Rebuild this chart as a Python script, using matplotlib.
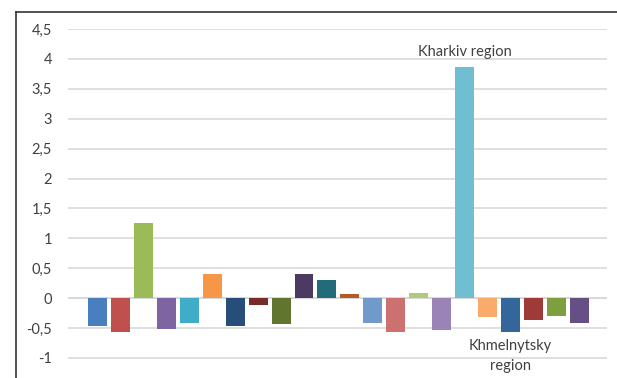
import matplotlib
matplotlib.use('Agg')
import matplotlib.pyplot as plt
import numpy as np

# one value per region (22 bars)
values = [-0.46, -0.56, 1.26, -0.51, -0.42, 0.41, -0.46, -0.11, -0.44, 0.41, 0.31,
          0.07, -0.41, -0.56, 0.09, -0.54, 3.87, -0.31, -0.56, -0.37, -0.29, -0.42]
colors = ['#4A7FBF', '#C0504D', '#9BBB59', '#7F64A2', '#40ACC8', '#F79646',
          '#264E78', '#772C2A', '#61752F', '#4D3A62', '#216B7B', '#B65929',
          '#6F9ACB', '#CD7170', '#B0CA7B', '#9A83B6', '#6FBED2', '#F9AB6A',
          '#33679C', '#9E3A38', '#7E9E3F', '#664F84']
labels = {16: 'Kharkiv region', 18: 'Khmelnytsky\nregion'}
y_ticks = [-1, -0.5, 0, 0.5, 1, 1.5, 2, 2.5, 3, 3.5, 4, 4.5]

W, H = 617, 378
fig = plt.figure(figsize=(W / 100, H / 100), dpi=100)
plt.rcParams['font.family'] = ['Lato', 'DejaVu Sans']

# outer chart border (only top and left visible in the crop)
fig.add_artist(plt.Line2D([15.5 / W, 1], [1 - 11.5 / H, 1 - 11.5 / H], color='#333333', lw=1.2))
fig.add_artist(plt.Line2D([15.5 / W, 15.5 / W], [0, 1 - 11.5 / H], color='#333333', lw=1.2))

ax = fig.add_axes([68 / W, 0, (607 - 68) / W, 1 - 29 / H])
x = np.arange(len(values))
ax.bar(x, values, width=19 / 23, color=colors, zorder=3)

ax.set_xlim(-1.28, 22.2)
ax.set_ylim(-1 - 20 / 59.8, 4.5)
ax.set_yticks(y_ticks)
ax.set_yticklabels([('%g' % t).replace('.', ',') for t in y_ticks])
ax.set_xticks([])
ax.grid(axis='y', color='#D9D9D9', lw=1.2, zorder=0)
ax.axhline(0, color='#D9D9D9', lw=1.5, zorder=2)
for s in ax.spines.values():
    s.set_visible(False)
ax.tick_params(axis='y', length=0, pad=11.5, labelsize=10.5, labelcolor='#404040')
ax.patch.set_alpha(0)

for i, txt in labels.items():
    v = values[i]
    if v > 0:
        ax.text(i, v + 0.13, txt, ha='center', va='bottom', fontsize=10.5, color='#404040')
    else:
        ax.text(i, v - 0.13, txt, ha='center', va='top', fontsize=10.5, color='#404040',
                linespacing=1.5)

fig.savefig('out.png', dpi=100)
